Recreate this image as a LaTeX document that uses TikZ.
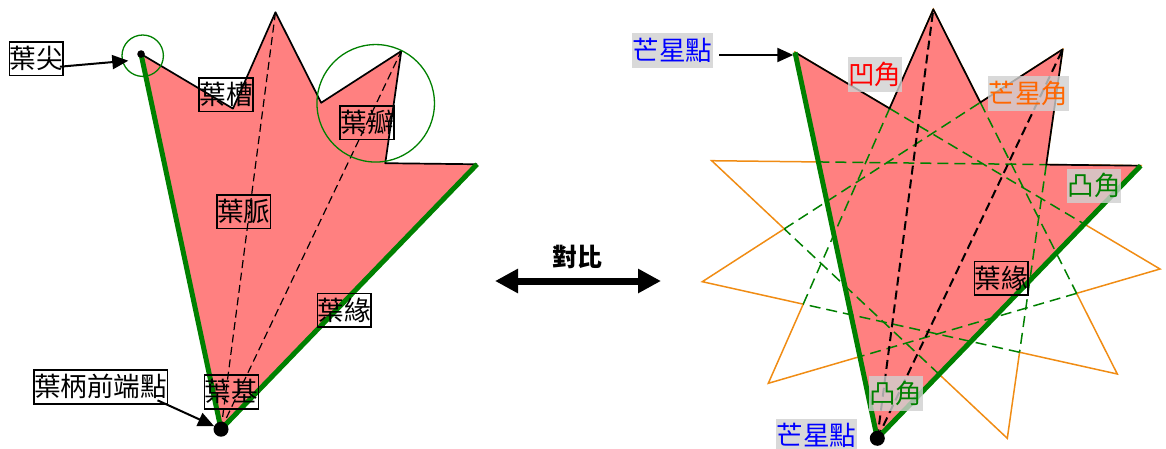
\documentclass[tikz,border=0pt]{standalone}
\usepackage{fontspec}
\setmainfont{Noto Sans CJK TC}
\usetikzlibrary{arrows.meta}

\definecolor{leafpink}{RGB}{255,128,128}
\definecolor{leafgreen}{RGB}{0,128,0}
\definecolor{starorange}{RGB}{240,140,20}
\definecolor{tagorange}{RGB}{255,102,0}
\definecolor{taggray}{RGB}{208,208,208}

% outer points of the eleven-pointed star {11/4}, in units of 100
\def\StarX{{7.95,9.333,10.627,11.407,11.60,11.173,10.073,8.773,7.683,7.023,7.117}}
\def\StarY{{0.523,0.093,0.493,1.657,2.69,3.74,4.383,4.383,3.833,2.817,1.607}}

% named outer points #1<i> and inner vertices #1v<i> (between i and i+1)
\newcommand{\defstar}[1]{%
  \foreach \i in {0,...,10}{%
    \pgfmathsetmacro\qax{100*\StarX[\i]}%
    \pgfmathsetmacro\qay{100*\StarY[\i]}%
    \coordinate (#1\i) at (\qax,\qay);
  }%
  \foreach \i in {0,...,10}{%
    \pgfmathtruncatemacro\ja{mod(\i+4,11)}%
    \pgfmathtruncatemacro\jb{mod(\i+1,11)}%
    \pgfmathtruncatemacro\jc{mod(\i+8,11)}%
    \pgfmathsetmacro\qax{\StarX[\i]}\pgfmathsetmacro\qay{\StarY[\i]}%
    \pgfmathsetmacro\qbx{\StarX[\ja]}\pgfmathsetmacro\qby{\StarY[\ja]}%
    \pgfmathsetmacro\qcx{\StarX[\jb]}\pgfmathsetmacro\qcy{\StarY[\jb]}%
    \pgfmathsetmacro\qdx{\StarX[\jc]}\pgfmathsetmacro\qdy{\StarY[\jc]}%
    \pgfmathsetmacro\qden{(\qbx-\qax)*(\qdy-\qcy)-(\qby-\qay)*(\qdx-\qcx)}%
    \pgfmathsetmacro\qpar{((\qcx-\qax)*(\qdy-\qcy)-(\qcy-\qay)*(\qdx-\qcx))/\qden}%
    \pgfmathsetmacro\qvx{100*(\qax+\qpar*(\qbx-\qax))}%
    \pgfmathsetmacro\qvy{100*(\qay+\qpar*(\qby-\qay))}%
    \coordinate (#1v\i) at (\qvx,\qvy);
  }%
}

\begin{document}
\begin{tikzpicture}[x=1pt,y=-1pt,
  lbl/.style={draw, line width=1.6pt, inner xsep=0.3pt, inner ysep=1.8pt,
    text height=24.7pt, text depth=5.3pt, font=\fontsize{26.6}{30}\selectfont},
  tag/.style={fill=taggray, fill opacity=0.8, text opacity=1, inner xsep=0.3pt,
    inner ysep=2.2pt, text height=24.7pt, text depth=5.3pt,
    font=\fontsize{26.6}{30}\selectfont},
  ptr/.style={line width=2pt, -{Triangle[length=16pt,width=14pt]}},
  leafedge/.style={line width=1.7pt, line join=round},
  leafrim/.style={leafgreen, line width=5pt},
  veinL/.style={line width=1.2pt, dash pattern=on 8pt off 4.5pt},
  veinR/.style={line width=2pt, dash pattern=on 9pt off 5pt},
  chord/.style={leafgreen, line width=1.5pt, dash pattern=on 11pt off 6pt},
  staredge/.style={starorange, line width=1.5pt, line join=miter},
  ring/.style={circle, draw=leafgreen, line width=1.3pt, inner sep=0pt},
  dot/.style={circle, fill=black, inner sep=0pt}]

\useasboundingbox (0,0) rectangle (1166,448);

% ---------- point sets ----------
\begin{scope}[shift={(-631.7,3.2)}, scale=0.972]
  \defstar{L}
\end{scope}
\defstar{R}

% ---------- left: parts of a leaf ----------
\fill[leafpink] (L0) -- (Lv0) -- (L1) -- (Lv1) -- (L2) -- (Lv2) -- (L3) -- (L7) -- cycle;
\draw[leafedge] (L0) -- (Lv0) -- (L1) -- (Lv1) -- (L2) -- (Lv2) -- (L3);
\draw[veinL] (L7) -- (L1) (L7) -- (L2);
\draw[leafrim] (L3) -- (L7) -- (L0);
\node[ring, minimum size=41.4pt] (tipring) at (142.7,55.7) {};
\node[ring, minimum size=117.5pt] (lobering) at (375.7,103.3) {};
\node[dot, minimum size=7.6pt] (ltipdot) at (L0) {};
\node[dot, minimum size=15pt] (lbasedot) at (L7) {};

\node[lbl] (ltip) at (36.2,58.5) {葉尖};
\node[lbl] (lsinus) at (226,94.5) {葉槽};
\node[lbl] (lvein) at (243.7,211.7) {葉脈};
\node[lbl] (llobe) at (367,122.5) {葉瓣};
\node[lbl] (lmargin) at (344.2,310.3) {葉緣};
\node[lbl] (lstem) at (100.5,387) {葉柄前端點};
\node[lbl] (lbase) at (231.5,392) {葉基};

\coordinate (tipend) at (128.3,60.7);
\draw[ptr] ([xshift=-4pt,yshift=-8.2pt]ltip.east) -- (tipend);
\draw[ptr] ([xshift=-10.6pt,yshift=4.3pt]lstem.south east) -- (lbasedot);

% ---------- middle ----------
\node[font=\fontsize{25}{25}\selectfont\bfseries] (cmp) at (577,257) {對比};
\coordinate (cmpl) at (495,281);
\coordinate (cmpr) at (661,281);
\draw[line width=7pt, {Triangle[length=23pt,width=23pt]}-{Triangle[length=23pt,width=23pt]}] (cmpl) -- (cmpr);

% ---------- right: leaf inside the star ----------
\draw[staredge] (R0) -- (Rv0) -- (R1) -- (Rv1) -- (R2) -- (Rv2) -- (R3) -- (Rv3)
  -- (R4) -- (Rv4) -- (R5) -- (Rv5) -- (R6) -- (Rv6) -- (R7) -- (Rv7)
  -- (R8) -- (Rv8) -- (R9) -- (Rv9) -- (R10) -- (Rv10) -- cycle;
\fill[leafpink] (R0) -- (Rv0) -- (R1) -- (Rv1) -- (R2) -- (Rv2) -- (R3) -- (R7) -- cycle;
\foreach \i in {0,...,10}{%
  \pgfmathtruncatemacro\jd{mod(\i+3,11)}%
  \draw[chord] (Rv\i) -- (Rv\jd);
}
\draw[leafedge] (R0) -- (Rv0) -- (R1) -- (Rv1) -- (R2) -- (Rv2) -- (R3);
\draw[veinR] (R7) -- (R1) (R7) -- (R2);
\draw[leafrim] (R3) -- (R7) -- (R0);
\node[dot, minimum size=15pt] (rbasedot) at (R7) {};

\node[tag, text=blue] (rtip) at (672.4,50.5) {芒星點};
\node[tag, text=red] (rconcave) at (874.7,74.5) {凹角};
\node[tag, text=tagorange] (rstarang) at (1028.3,93.3) {芒星角};
\node[tag, text=leafgreen] (rconvex) at (1094,186.2) {凸角};
\node[lbl] (rmargin) at (1001.3,278.3) {葉緣};
\node[tag, text=leafgreen] (rconvexb) at (895.8,393.3) {凸角};
\node[tag, text=blue] (rbase) at (816.3,435.8) {芒星點};

\coordinate (rtipend) at (793.3,55);
\draw[ptr] ([xshift=6.6pt,yshift=-4.5pt]rtip.east) -- (rtipend);
\end{tikzpicture}
\end{document}
